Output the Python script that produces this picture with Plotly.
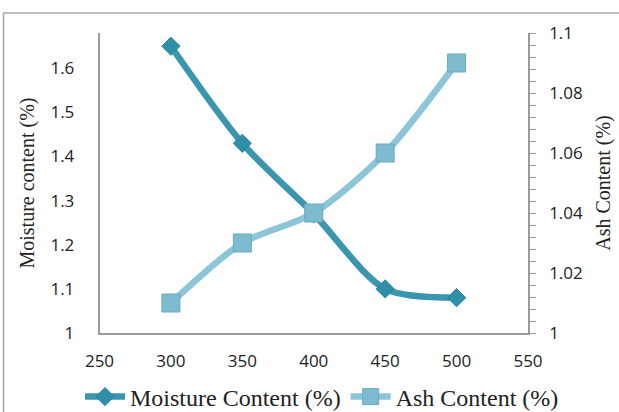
import plotly.graph_objects as go

temperature = [300, 350, 400, 450, 500]
moisture = [1.65, 1.43, 1.27, 1.10, 1.08]
ash = [1.01, 1.03, 1.04, 1.06, 1.09]

moist_color = "#3A96AF"
ash_color = "#8DC5D8"

fig = go.Figure()
fig.add_trace(go.Scatter(
    x=temperature, y=moisture, name="Moisture Content (%)",
    mode="lines+markers",
    line=dict(color=moist_color, width=6.5, shape="spline", smoothing=0.8),
    marker=dict(symbol="diamond", size=14, color="#2F8EA8", line=dict(color="#2A84A0", width=1)),
    yaxis="y",
))
fig.add_trace(go.Scatter(
    x=temperature, y=ash, name="Ash Content (%)",
    mode="lines+markers",
    line=dict(color=ash_color, width=6.5, shape="spline", smoothing=0.8),
    marker=dict(symbol="square", size=18, color="#7DBBD1", line=dict(color="#6AA9C0", width=1)),
    yaxis="y2",
))

serif = "Liberation Serif, Times New Roman, serif"
sans = "Open Sans, Liberation Sans, Arial, sans-serif"
W, H = 619, 412
x_left, x_right = 99.5, 528.0
top, bottom = 33.0, 333.0

fig.update_layout(
    width=W, height=H,
    margin=dict(l=0, r=0, t=top, b=H - bottom, autoexpand=False),
    paper_bgcolor="white", plot_bgcolor="white",
    showlegend=True,
    legend=dict(orientation="h", x=322 / W, xanchor="center", y=-(397 - bottom) / (bottom - top),
                yanchor="middle", font=dict(family=serif, size=24, color="#222"), itemwidth=40,
                traceorder="normal", bgcolor="rgba(0,0,0,0)"),
    xaxis=dict(domain=[x_left / W, x_right / W], range=[250, 550], dtick=50, tick0=250,
               showgrid=False, zeroline=False, automargin=False,
               showline=True, linecolor="#9A9A9A", linewidth=1.5, ticks="",
               tickfont=dict(family=sans, size=17, color="#222"), ticklabelstandoff=12),
    yaxis=dict(range=[1, 1.68], tickvals=[1, 1.1, 1.2, 1.3, 1.4, 1.5, 1.6],
               ticktext=["1", "1.1", "1.2", "1.3", "1.4", "1.5", "1.6"], automargin=False,
               showgrid=False, zeroline=False, showline=True, linecolor="#9A9A9A", linewidth=1.5,
               ticks="", tickfont=dict(family=sans, size=17, color="#222"), ticklabelstandoff=20,
               title=dict(text="Moisture content (%)", font=dict(family=serif, size=20, color="#222"), standoff=10)),
    yaxis2=dict(range=[1, 1.1], overlaying="y", side="right", automargin=False,
                tickvals=[1, 1.02, 1.04, 1.06, 1.08, 1.1],
                ticktext=["1", "1.02", "1.04", "1.06", "1.08", "1.1"],
                showgrid=False, zeroline=False, showline=True, linecolor="#9A9A9A", linewidth=1.5,
                ticks="outside", ticklen=6, tickcolor="#9A9A9A",
                minor=dict(dtick=0.004, tick0=1, ticks="outside", ticklen=6, tickcolor="#9A9A9A"),
                tickfont=dict(family=sans, size=17, color="#222"), ticklabelstandoff=10,
                title=dict(text="Ash Content (%)", font=dict(family=serif, size=20, color="#222"), standoff=14)),
    shapes=[dict(type="rect", xref="paper", yref="paper",
                 x0=3.5 / W, x1=1.1, y0=-0.5, y1=1 + (top - 13) / (bottom - top),
                 line=dict(color="#A8A8A8", width=1.5), fillcolor="rgba(0,0,0,0)", layer="below")],
)

fig.write_html("out.html", config={"displayModeBar": False},
               post_script="document.body.style.margin='0';document.body.style.padding='0';"
                           "document.documentElement.style.overflow='hidden';")
